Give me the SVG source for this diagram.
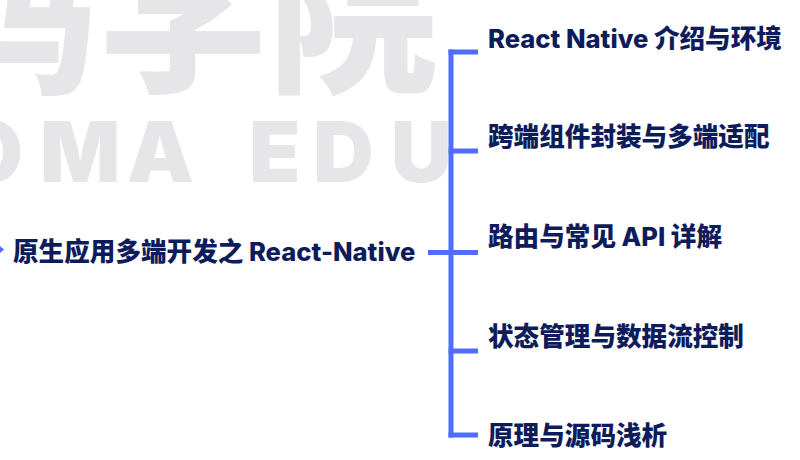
<svg xmlns="http://www.w3.org/2000/svg" width="800" height="460" viewBox="0 0 800 460">
<style>
.wm{fill:#e6e6e8;font-family:"Noto Sans CJK SC","Noto Sans",sans-serif;font-weight:900}
.wl{fill:#e6e6e8;font-family:"Inter","Liberation Sans",sans-serif;font-weight:900}
.t{fill:#0f1c5c;font-family:"Inter","Noto Sans CJK SC",sans-serif;font-weight:800;font-size:25.6px}
.ln{stroke:#4f6cff;stroke-width:5;fill:none;stroke-linecap:butt}
</style>
<rect width="800" height="460" fill="#ffffff"/>
<g id="watermark">
<text class="wm" x="-72" y="80" font-size="170">码学院</text>
<text class="wl" y="182" font-size="84" x="-42 40 127 200 249 313 391">OMA EDU</text>
</g>
<g id="connectors">
<path class="ln" d="M451 49.5V437.5"/>
<path class="ln" d="M448.5 52H478M448.5 151H478M428 252.5H478M448.5 351H478M448.5 435H478"/>
<polygon points="0,246 4,249.5 0,253" fill="#4f6cff"/>
</g>
<g id="root"><text class="t" x="13" y="261">原生应用多端开发之 React-Native</text></g>
<g id="n1"><text class="t" x="488" y="48">React Native 介绍与环境</text></g>
<g id="n2"><text class="t" x="488" y="146">跨端组件封装与多端适配</text></g>
<g id="n3"><text class="t" x="488" y="246">路由与常见 API 详解</text></g>
<g id="n4"><text class="t" x="488" y="346">状态管理与数据流控制</text></g>
<g id="n5"><text class="t" x="488" y="445">原理与源码浅析</text></g>
</svg>
